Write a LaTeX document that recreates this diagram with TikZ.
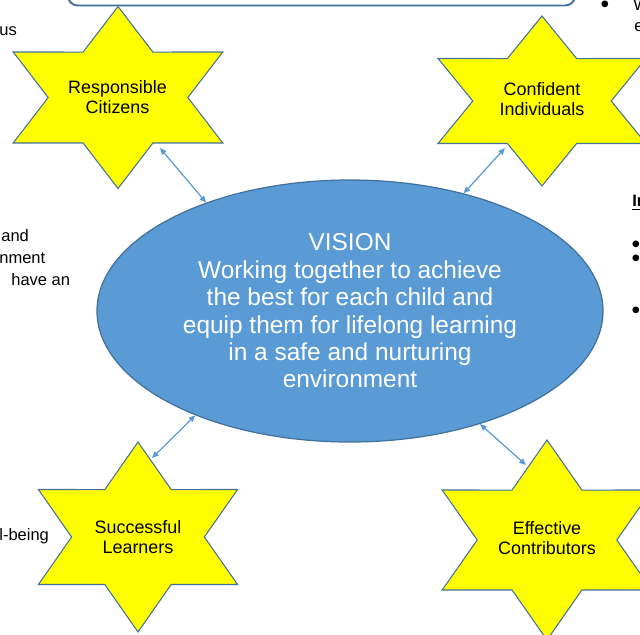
\documentclass[tikz,border=0pt]{standalone}
\usepackage{fontspec}
\setmainfont{Liberation Sans}
\usetikzlibrary{arrows.meta,shapes.geometric}
\definecolor{visblue}{HTML}{5B9BD5}
\definecolor{edgeblue}{HTML}{41719C}
\definecolor{staryellow}{HTML}{FFFF00}
\newcommand{\hexpath}{(90:1) -- (60:0.577) -- (30:1) -- (0:0.577) -- (-30:1) -- (-60:0.577) -- (-90:1) -- (-120:0.577) -- (-150:1) -- (180:0.577) -- (150:1) -- (120:0.577) -- cycle}
\begin{document}
\begin{tikzpicture}[scale=0.2]
\tikzstyle{every node}+=[inner sep=0pt]
\tikzstyle{starline}=[draw=edgeblue, fill=staryellow, line width=0.6pt, line join=miter]
\tikzstyle{startext}=[align=center, font=\fontsize{10.2}{11.3}\selectfont]
\tikzstyle{sidetext}=[anchor=west, font=\fontsize{9.4}{12.5}\selectfont]
\tikzstyle{bulletmark}=[font=\fontsize{14}{14}\selectfont]
\tikzstyle{link}=[visblue, line width=0.7pt, {Triangle[length=3.8pt,width=3.2pt]}-{Triangle[length=3.8pt,width=3.2pt]}]
\useasboundingbox (0,0) rectangle (64,-63.4);
\clip (0,0) rectangle (64,-63.4);
\draw [edgeblue, line width=1.1pt, rounded corners=5.5pt] (6.8,1) -- (6.8,-0.55) -- (57.5,-0.55) -- (57.5,1);
\draw [starline, shift={(11.8,-9.75)}, xscale=12.1, yscale=9.1] \hexpath;
\draw [starline, shift={(54.2,-10.1)}, xscale=12.0, yscale=8.5] \hexpath;
\draw [starline, shift={(13.8,-53.7)}, xscale=11.5, yscale=9.5] \hexpath;
\draw [starline, shift={(54.7,-54.0)}, xscale=12.1, yscale=10] \hexpath;
\node [startext] (rc) at (11.75,-9.7) {Responsible\\Citizens};
\node [startext] (ci) at (54.2,-9.9) {Confident\\Individuals};
\node [startext] (sl) at (13.8,-53.7) {Successful\\Learners};
\node [startext] (ec) at (54.7,-53.8) {Effective\\Contributors};
\node [ellipse, draw=edgeblue, fill=visblue, line width=0.7pt, minimum width=10.12cm, minimum height=5.24cm, text=white, align=center, font=\fontsize{13.9}{15.6}\selectfont] (vision) at (35,-31.1) {VISION\\Working together to achieve\\the best for each child and\\equip them for lifelong learning\\in a safe and nurturing\\environment};
\coordinate (rc-tip) at (16,-14.8);
\coordinate (ci-tip) at (50.5,-14.8);
\coordinate (sl-tip) at (15.2,-45.8);
\coordinate (ec-tip) at (52.6,-46.5);
\draw [link] (vision.143.6) -- (rc-tip);
\draw [link] (vision.46.2) -- (ci-tip);
\draw [link] (vision.214.3) -- (sl-tip);
\draw [link] (vision.-41.6) -- (ec-tip);
\node [sidetext] (us) at (-0.1,-3.1) {us};
\node [sidetext] (and) at (0.1,-23.6) {and};
\node [sidetext] (nment) at (-0.1,-25.8) {nment};
\node [sidetext] (havean) at (1.1,-28.0) {have an};
\node [sidetext] (being) at (-0.1,-53.6) {l-being};
\node [bulletmark] (dot0) at (60.5,-0.7) {•};
\node [sidetext] (w) at (63.3,-0.5) {W};
\node [sidetext] (e) at (63.4,-2.7) {e};
\node [sidetext] (intro) at (63.2,-20.3) {\underline{\textbf{In}}};
\node [bulletmark] (dot1) at (63.6,-24.7) {•};
\node [bulletmark] (dot2) at (63.6,-26.1) {•};
\node [bulletmark] (dot3) at (63.6,-31.3) {•};
\end{tikzpicture}
\end{document}
